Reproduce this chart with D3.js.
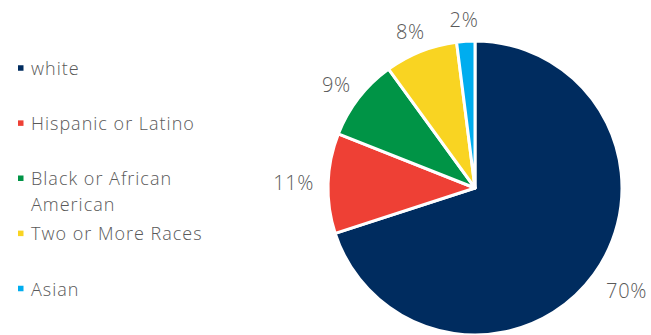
<!DOCTYPE html>
<html><head><meta charset="utf-8">
<script src="https://cdn.jsdelivr.net/npm/d3@7"></script>
<style>body{margin:0;background:#fff}svg{display:block}</style>
</head><body>
<svg id="c" width="651" height="335"></svg>
<script>
const categories = ["white", "Hispanic or Latino", "Black or African American", "Two or More Races", "Asian"];
const legendLines = [["white"], ["Hispanic or Latino"], ["Black or African", "American"], ["Two or More Races"], ["Asian"]];
const values = [70, 11, 9, 8, 2];
const labels = ["70%", "11%", "9%", "8%", "2%"];
const colors = ["#002C5F", "#EE4035", "#009446", "#F9D422", "#00ADEF"];

const svg = d3.select("#c");
const font = "'Open Sans', sans-serif";
const textColor = "#595959";
const cx = 475, cy = 188, r = 147;
const pie = d3.pie().sort(null).value(d => d)(values);
const arc = d3.arc().innerRadius(0).outerRadius(r);
const g = svg.append("g").attr("transform", `translate(${cx},${cy})`);
g.selectAll("path").data(pie).join("path")
  .attr("d", arc).attr("fill", (d, i) => colors[i])
  .attr("stroke", "#fff").attr("stroke-width", 3).attr("stroke-linejoin", "round");

// outside-end label placement: box edge sits a gap outside the rim
const labelsSel = g.selectAll("text").data(pie).join("text")
  .attr("text-anchor", "middle").attr("dy", "0.36em")
  .attr("font-family", font).attr("font-size", 20).attr("font-weight", 300)
  .attr("letter-spacing", 0.6)
  .attr("fill", textColor).text((d, i) => labels[i]);
labelsSel.attr("transform", function (d) {
  const a = (d.startAngle + d.endAngle) / 2;
  const ux = Math.sin(a), uy = -Math.cos(a);
  const hw = this.getComputedTextLength() / 2, hh = 7.5;
  const gap = 14 + 10 * Math.max(0, uy);
  const x = ux * (r + gap) + ux * hw;
  const y = uy * (r + gap) + uy * hh;
  return `translate(${x},${y})`;
});

const legendY = d3.scalePoint().domain(categories).range([68, 288.5]);
const lg = svg.append("g");
categories.forEach((c, i) => {
  const y = legendY(c);
  lg.append("rect").attr("x", 18).attr("y", y - 2.75).attr("width", 5.5).attr("height", 5.5).attr("fill", colors[i]);
  const t = lg.append("text").attr("font-family", font).attr("font-size", 18).attr("font-weight", 300)
    .attr("letter-spacing", 1).attr("fill", textColor);
  legendLines[i].forEach((ln, j) => {
    t.append("tspan").attr("x", 31).attr("y", y + 7 + j * 25.7).text(ln);
  });
});
</script>
</body></html>
